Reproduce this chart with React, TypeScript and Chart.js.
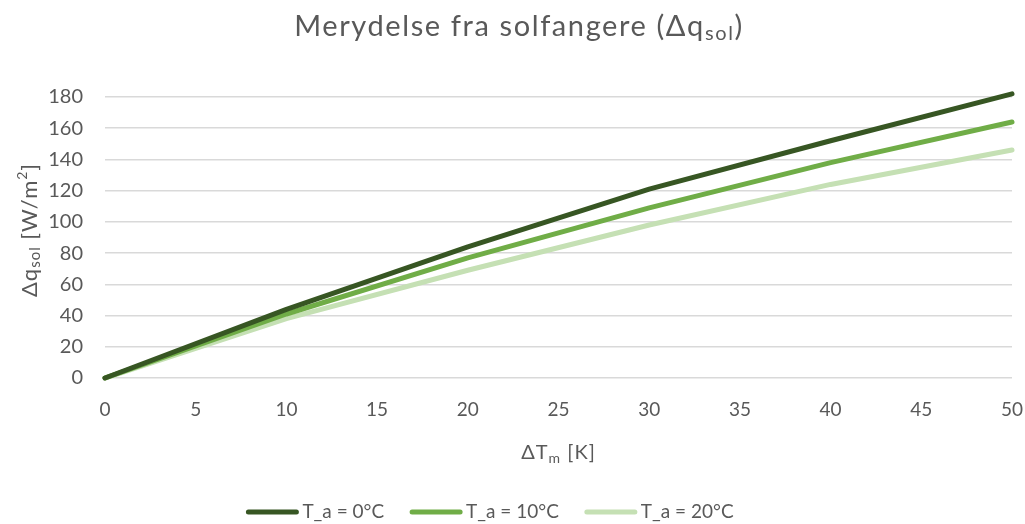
import React, { useEffect, useRef } from "react";
import { Chart, registerables } from "chart.js";

Chart.register(...registerables);

const xValues = [0, 10, 20, 30, 40, 50];
const ta0 = [0, 44, 84, 121, 152, 182];
const ta10 = [0, 41, 77, 109, 138, 164];
const ta20 = [0, 38, 69, 98, 124, 146];
const seriesLabels = ["T_a = 0°C", "T_a = 10°C", "T_a = 20°C"];
const seriesColors = ["#375623", "#70AD47", "#C5E0B4"];
const yTickMax = 180;
const xTickMax = 50;

const FONT = "Lato, 'DejaVu Sans', sans-serif";
const TEXT = "#595959";

type Part = { t: string; s: number; dy?: number };

function richWidth(ctx: CanvasRenderingContext2D, parts: Part[]) {
  let w = 0;
  for (const p of parts) {
    ctx.font = `${p.s}px ${FONT}`;
    w += ctx.measureText(p.t).width;
  }
  return w;
}

function drawRich(ctx: CanvasRenderingContext2D, parts: Part[], cx: number, cy: number, spacing: number) {
  (ctx as any).letterSpacing = `${spacing}px`;
  const w = richWidth(ctx, parts);
  let x = cx - w / 2;
  ctx.textBaseline = "middle";
  ctx.textAlign = "left";
  ctx.fillStyle = TEXT;
  for (const p of parts) {
    ctx.font = `${p.s}px ${FONT}`;
    ctx.fillText(p.t, x, cy + (p.dy || 0));
    x += ctx.measureText(p.t).width;
  }
  (ctx as any).letterSpacing = "0px";
}

const decorPlugin = {
  id: "decor",
  afterDraw(chart: any) {
    const ctx: CanvasRenderingContext2D = chart.ctx;
    const area = chart.chartArea;
    ctx.save();
    // Title
    drawRich(
      ctx,
      [
        { t: "Merydelse fra solfangere (Δq", s: 29 },
        { t: "sol", s: 20, dy: 7 },
        { t: ")", s: 29 },
      ],
      519,
      27,
      1.6
    );
    // X axis title
    drawRich(
      ctx,
      [
        { t: "ΔT", s: 20 },
        { t: "m", s: 14, dy: 5 },
        { t: " [K]", s: 20 },
      ],
      (area.left + area.right) / 2,
      453,
      1
    );
    // Y axis title
    ctx.save();
    ctx.translate(30, 230);
    ctx.rotate(-Math.PI / 2);
    drawRich(
      ctx,
      [
        { t: "Δq", s: 22 },
        { t: "sol", s: 15, dy: 5 },
        { t: " [W/m", s: 22 },
        { t: "2", s: 14, dy: -8 },
        { t: "]", s: 22 },
      ],
      0,
      0,
      1
    );
    ctx.restore();
    // Legend
    ctx.font = `19px ${FONT}`;
    const lineW = 52;
    const gapText = 4;
    const gapItem = 26;
    const widths = seriesLabels.map((l) => ctx.measureText(l).width);
    const total =
      widths.reduce((a, b) => a + b, 0) + seriesLabels.length * (lineW + gapText) + (seriesLabels.length - 1) * gapItem;
    let x = 490 - total / 2;
    const ly = 512;
    seriesLabels.forEach((l, i) => {
      ctx.strokeStyle = seriesColors[i];
      ctx.lineWidth = 5;
      ctx.lineCap = "round";
      ctx.beginPath();
      ctx.moveTo(x + 2, ly);
      ctx.lineTo(x + lineW - 2, ly);
      ctx.stroke();
      ctx.fillStyle = TEXT;
      ctx.textAlign = "left";
      ctx.textBaseline = "middle";
      ctx.fillText(l, x + lineW + gapText, ly);
      x += lineW + gapText + widths[i] + gapItem;
    });
    ctx.restore();
  },
};

export default function App() {
  const ref = useRef<HTMLCanvasElement>(null);
  useEffect(() => {
    document.body.style.margin = "0";
    const canvas = ref.current!;
    const mk = (vals: number[]) => xValues.map((x, i) => ({ x, y: vals[i] }));
    const chart = new Chart(canvas, {
      type: "line",
      data: {
        datasets: [ta0, ta10, ta20].map((vals, i) => ({
          label: seriesLabels[i],
          data: mk(vals),
          borderColor: seriesColors[i],
          backgroundColor: seriesColors[i],
          borderWidth: 5,
          borderCapStyle: "round",
          borderJoinStyle: "round",
          pointRadius: 0,
          tension: 0,
          clip: false,
        })),
      },
      options: {
        responsive: false,
        animation: false,
        layout: { padding: { top: 97, right: 13, bottom: 0, left: 0 }, autoPadding: false },
        plugins: {
          legend: { display: false },
          title: { display: false },
          tooltip: { enabled: false },
        },
        scales: {
          x: {
            type: "linear",
            min: 0,
            max: xTickMax,
            ticks: { stepSize: 5, color: TEXT, font: { family: FONT, size: 19 }, padding: 20 },
            grid: { display: false, drawTicks: false },
            border: { display: false },
            afterFit: (s: any) => {
              s.height = 146;
              s.paddingLeft = 0;
              s.paddingRight = 0;
            },
          },
          y: {
            min: 0,
            max: yTickMax,
            ticks: { stepSize: 20, color: TEXT, font: { family: FONT, size: 20 }, padding: 22 },
            grid: { color: "#d9d9d9", lineWidth: 1.5, drawTicks: false },
            border: { display: false },
            afterFit: (s: any) => {
              s.width = 105;
              s.paddingTop = 0;
              s.paddingBottom = 0;
            },
          },
        },
      },
      plugins: [decorPlugin],
    } as any);
    return () => chart.destroy();
  }, []);
  return (
    <div style={{ position: "absolute", left: 0, top: 0, width: 1025, height: 524, background: "#fff" }}>
      <canvas ref={ref} width={1025} height={524} />
    </div>
  );
}
